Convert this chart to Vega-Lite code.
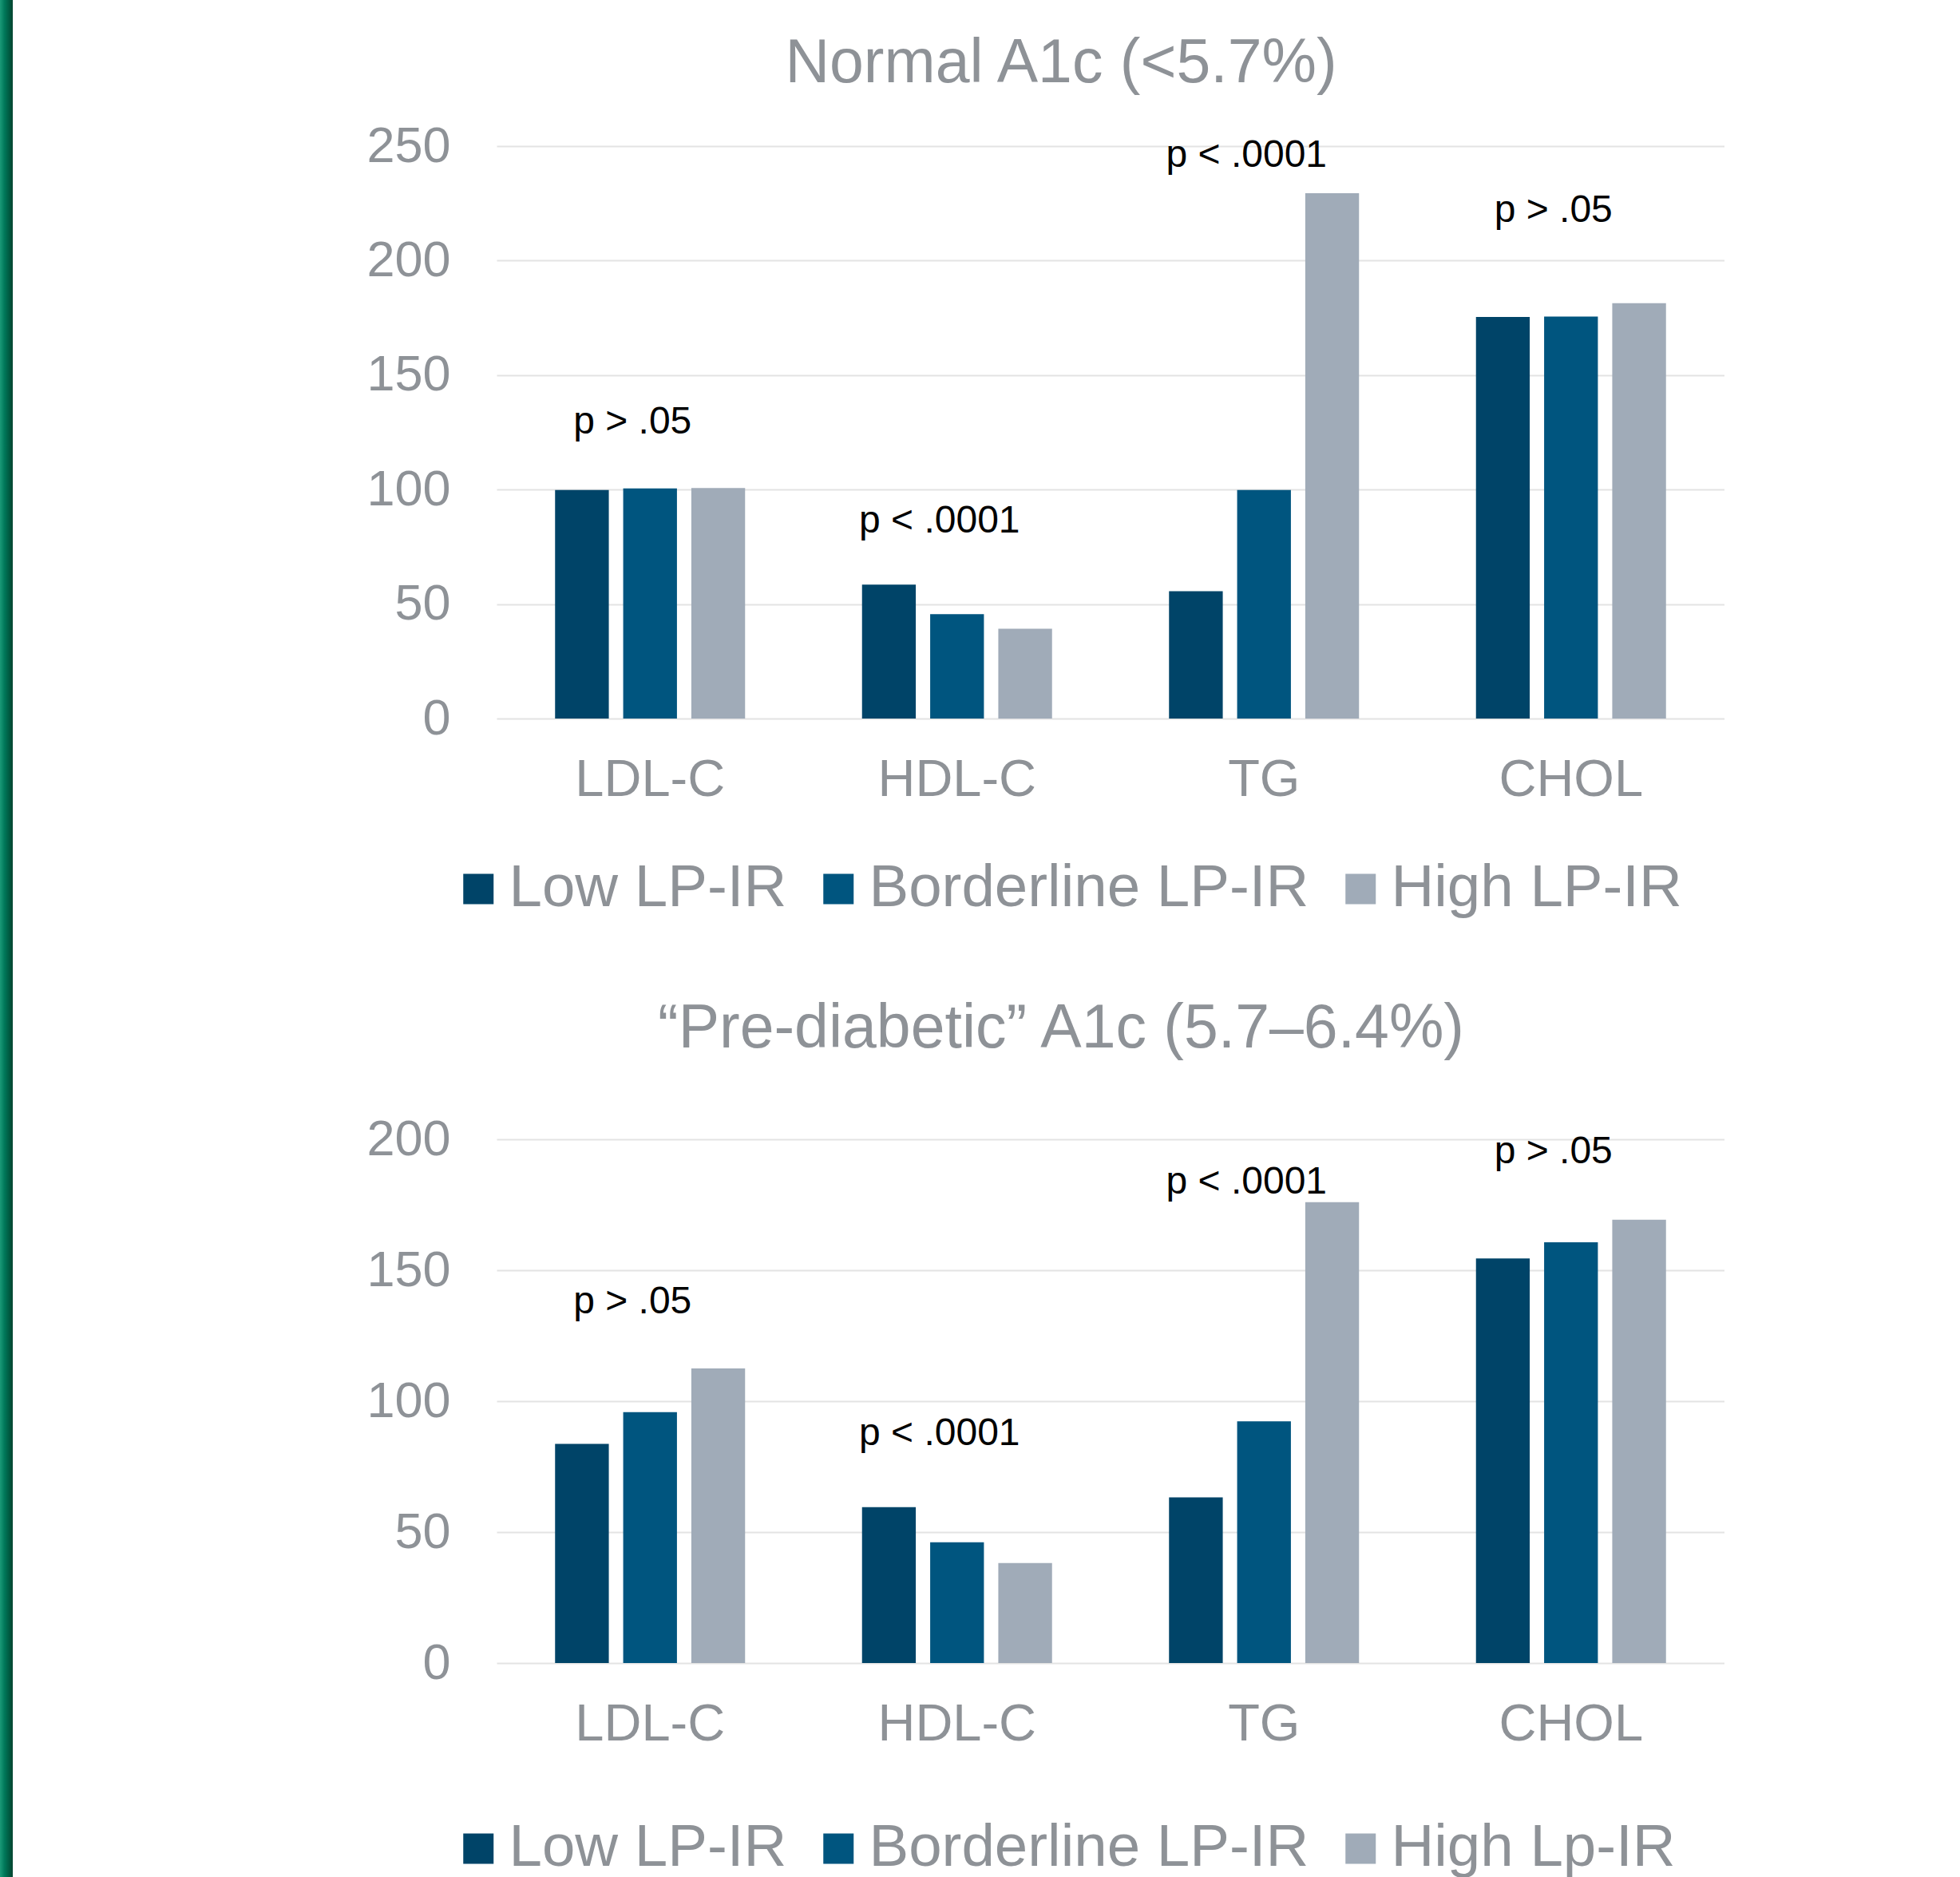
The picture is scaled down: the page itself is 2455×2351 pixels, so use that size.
{
  "$schema": "https://vega.github.io/schema/vega-lite/v6.json",
  "padding": 0,
  "background": "white",
  "datasets": {
    "bars": [
      {"panel": "normal", "lipid": "LDL-C", "group": "Low LP-IR", "value": 99.8},
      {"panel": "normal", "lipid": "LDL-C", "group": "Borderline LP-IR", "value": 100.5},
      {"panel": "normal", "lipid": "LDL-C", "group": "High LP-IR", "value": 100.7},
      {"panel": "normal", "lipid": "HDL-C", "group": "Low LP-IR", "value": 58.5},
      {"panel": "normal", "lipid": "HDL-C", "group": "Borderline LP-IR", "value": 45.6},
      {"panel": "normal", "lipid": "HDL-C", "group": "High LP-IR", "value": 39.2},
      {"panel": "normal", "lipid": "TG", "group": "Low LP-IR", "value": 55.6},
      {"panel": "normal", "lipid": "TG", "group": "Borderline LP-IR", "value": 99.8},
      {"panel": "normal", "lipid": "TG", "group": "High LP-IR", "value": 229.4},
      {"panel": "normal", "lipid": "CHOL", "group": "Low LP-IR", "value": 175.4},
      {"panel": "normal", "lipid": "CHOL", "group": "Borderline LP-IR", "value": 175.6},
      {"panel": "normal", "lipid": "CHOL", "group": "High LP-IR", "value": 181.4},
      {"panel": "pre", "lipid": "LDL-C", "group": "Low LP-IR", "value": 83.7},
      {"panel": "pre", "lipid": "LDL-C", "group": "Borderline LP-IR", "value": 95.8},
      {"panel": "pre", "lipid": "LDL-C", "group": "High Lp-IR", "value": 112.5},
      {"panel": "pre", "lipid": "HDL-C", "group": "Low LP-IR", "value": 59.5},
      {"panel": "pre", "lipid": "HDL-C", "group": "Borderline LP-IR", "value": 46.1},
      {"panel": "pre", "lipid": "HDL-C", "group": "High Lp-IR", "value": 38.2},
      {"panel": "pre", "lipid": "TG", "group": "Low LP-IR", "value": 63.3},
      {"panel": "pre", "lipid": "TG", "group": "Borderline LP-IR", "value": 92.3},
      {"panel": "pre", "lipid": "TG", "group": "High Lp-IR", "value": 176.0},
      {"panel": "pre", "lipid": "CHOL", "group": "Low LP-IR", "value": 154.5},
      {"panel": "pre", "lipid": "CHOL", "group": "Borderline LP-IR", "value": 160.7},
      {"panel": "pre", "lipid": "CHOL", "group": "High Lp-IR", "value": 169.3}
    ],
    "pvals": [
      {"panel": "normal", "lipid": "LDL-C", "label": "p > .05", "label_y": 129.3},
      {"panel": "normal", "lipid": "HDL-C", "label": "p < .0001", "label_y": 86.2},
      {"panel": "normal", "lipid": "TG", "label": "p < .0001", "label_y": 245.7},
      {"panel": "normal", "lipid": "CHOL", "label": "p > .05", "label_y": 221.7},
      {"panel": "pre", "lipid": "LDL-C", "label": "p > .05", "label_y": 137.9},
      {"panel": "pre", "lipid": "HDL-C", "label": "p < .0001", "label_y": 87.5},
      {"panel": "pre", "lipid": "TG", "label": "p < .0001", "label_y": 183.5},
      {"panel": "pre", "lipid": "CHOL", "label": "p > .05", "label_y": 195.0}
    ]
  },
  "config": {
    "font": "Liberation Sans",
    "view": {"stroke": null},
    "axis": {
      "labelFont": "Liberation Sans",
      "labelColor": "#8E9297",
      "domain": false,
      "ticks": false,
      "title": null,
      "gridColor": "#E3E3E3",
      "gridWidth": 2,
      "labelLimit": 1000
    },
    "axisX": {"labelFontSize": 65, "labelPadding": 45, "labelAngle": 0, "grid": false},
    "axisY": {"labelFontSize": 63, "labelPadding": 58, "grid": true},
    "legend": {
      "orient": "none",
      "direction": "horizontal",
      "title": null,
      "labelFont": "Liberation Sans",
      "labelFontSize": 74.5,
      "labelColor": "#8E9297",
      "symbolType": "square",
      "symbolSize": 1444,
      "symbolStrokeWidth": 0,
      "labelOffset": 1,
      "columnPadding": 27,
      "labelLimit": 1000
    },
    "title": {
      "font": "Liberation Sans",
      "fontSize": 77,
      "fontWeight": "normal",
      "color": "#8E9297",
      "anchor": "middle",
      "dx": -62
    }
  },
  "hconcat": [
    {
      "width": 16,
      "height": 2351,
      "data": {"values": [{}]},
      "view": {"stroke": null, "fill": {"gradient": "linear", "x1": 0, "y1": 0, "x2": 1, "y2": 0, "stops": [{"offset": 0, "color": "#1b9a78"}, {"offset": 0.35, "color": "#00785a"}, {"offset": 1, "color": "#00442f"}]}},
      "mark": {"type": "rect", "opacity": 0},
      "encoding": {}
    },
    {
      "spacing": 40,
      "vconcat": [
        {
          "width": 10,
          "height": 1,
          "data": {"values": []},
          "mark": "rect",
          "encoding": {}
        },
        {
          "spacing": 100,
          "resolve": {"scale": {"color": "independent", "xOffset": "independent"}, "legend": {"color": "independent"}},
          "vconcat": [
            {
              "width": 1538,
              "height": 717,
              "title": {"text": "Normal A1c (<5.7%)", "offset": 33},
              "layer": [
                {
                  "data": {"name": "bars"},
                  "transform": [{"filter": "datum.panel === 'normal'"}],
                  "mark": {"type": "bar"},
                  "encoding": {
                    "x": {"field": "lipid", "type": "nominal", "sort": ["LDL-C", "HDL-C", "TG", "CHOL"], "scale": {"paddingInner": 0.381, "paddingOuter": 0.1905}},
                    "xOffset": {"field": "group", "type": "nominal", "scale": {"domain": ["Low LP-IR", "Borderline LP-IR", "High LP-IR"], "paddingInner": 0.211, "paddingOuter": 0}},
                    "y": {"field": "value", "type": "quantitative", "scale": {"domain": [0, 250], "nice": false}, "axis": {"values": [0, 50, 100, 150, 200, 250]}},
                    "color": {"field": "group", "type": "nominal", "scale": {"domain": ["Low LP-IR", "Borderline LP-IR", "High LP-IR"], "range": ["#004468", "#00557F", "#A0ABB8"]}, "legend": {"legendX": -60, "legendY": 893}}
                  }
                },
                {
                  "data": {"name": "pvals"},
                  "transform": [{"filter": "datum.panel === 'normal'"}],
                  "mark": {"type": "text", "font": "Liberation Sans", "fontSize": 48, "color": "#000000", "baseline": "middle", "dx": -22},
                  "encoding": {
                    "x": {"field": "lipid", "type": "nominal", "sort": ["LDL-C", "HDL-C", "TG", "CHOL"]},
                    "y": {"field": "label_y", "type": "quantitative"},
                    "text": {"field": "label"}
                  }
                }
              ]
            },
            {
              "width": 1538,
              "height": 656,
              "title": {"text": "“Pre-diabetic” A1c (5.7–6.4%)", "offset": 68},
              "layer": [
                {
                  "data": {"name": "bars"},
                  "transform": [{"filter": "datum.panel === 'pre'"}],
                  "mark": {"type": "bar"},
                  "encoding": {
                    "x": {"field": "lipid", "type": "nominal", "sort": ["LDL-C", "HDL-C", "TG", "CHOL"], "scale": {"paddingInner": 0.381, "paddingOuter": 0.1905}},
                    "xOffset": {"field": "group", "type": "nominal", "scale": {"domain": ["Low LP-IR", "Borderline LP-IR", "High Lp-IR"], "paddingInner": 0.211, "paddingOuter": 0}},
                    "y": {"field": "value", "type": "quantitative", "scale": {"domain": [0, 200], "nice": false}, "axis": {"values": [0, 50, 100, 150, 200]}},
                    "color": {"field": "group", "type": "nominal", "scale": {"domain": ["Low LP-IR", "Borderline LP-IR", "High Lp-IR"], "range": ["#004468", "#00557F", "#A0ABB8"]}, "legend": {"legendX": -60, "legendY": 851}}
                  }
                },
                {
                  "data": {"name": "pvals"},
                  "transform": [{"filter": "datum.panel === 'pre'"}],
                  "mark": {"type": "text", "font": "Liberation Sans", "fontSize": 48, "color": "#000000", "baseline": "middle", "dx": -22},
                  "encoding": {
                    "x": {"field": "lipid", "type": "nominal", "sort": ["LDL-C", "HDL-C", "TG", "CHOL"]},
                    "y": {"field": "label_y", "type": "quantitative"},
                    "text": {"field": "label"}
                  }
                }
              ]
            }
          ]
        }
      ]
    }
  ],
  "spacing": 442
}
